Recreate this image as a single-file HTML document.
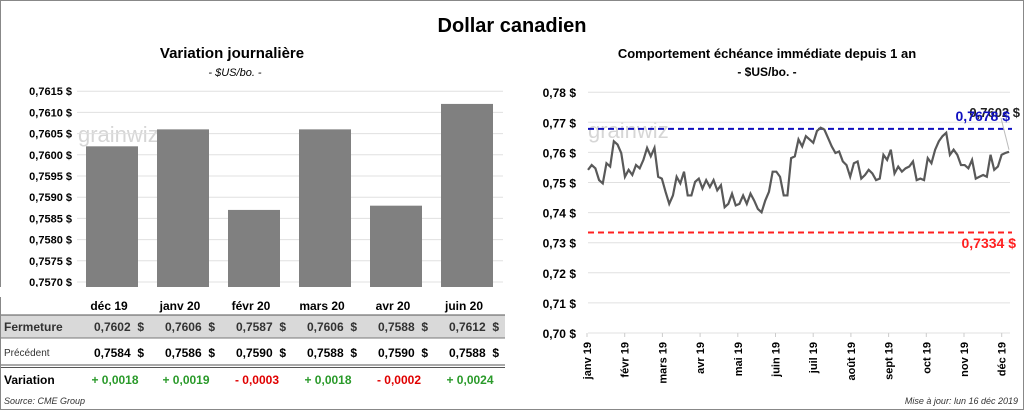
<!DOCTYPE html>
<html><head><meta charset="utf-8">
<style>
body{margin:0;width:1024px;height:410px;overflow:hidden;background:#fff;font-family:"Liberation Sans",sans-serif;}
svg text{font-family:"Liberation Sans",sans-serif;}
</style></head>
<body>
<svg id="s" width="1024" height="410" xmlns="http://www.w3.org/2000/svg">
<rect x="0.5" y="0.5" width="1023" height="409" fill="#fff" stroke="#888"/>
<text x="512" y="32" text-anchor="middle" font-size="20" font-weight="bold">Dollar canadien</text>
<text x="232" y="58" text-anchor="middle" font-size="15" font-weight="bold">Variation  journalière</text>
<text x="235" y="76" text-anchor="middle" font-size="11" font-style="italic">- $US/bo. -</text>
<text x="767" y="58" text-anchor="middle" font-size="13" font-weight="bold">Comportement échéance immédiate depuis 1 an</text>
<text x="767" y="76" text-anchor="middle" font-size="12" font-weight="bold">- $US/bo. -</text>
<text x="78" y="142" font-size="22" fill="#d6d6d6">grainwiz</text>
<text x="588" y="138" font-size="22" fill="#d6d6d6">grainwiz</text>
<g id="left"></g>
<g id="right"></g>
<text x="4" y="404" font-size="9" font-style="italic" fill="#333">Source: CME Group</text>
<text x="1018" y="404" text-anchor="end" font-size="9" font-style="italic" fill="#333">Mise à jour: lun 16 déc 2019</text>
</svg>
<script>
const barCats=["déc 19","janv 20","févr 20","mars 20","avr 20","juin 20"];
const closeVals=[0.7602,0.7606,0.7587,0.7606,0.7588,0.7612];
const prevVals=[0.7584,0.7586,0.7590,0.7588,0.7590,0.7588];
const varVals=[0.0018,0.0019,-0.0003,0.0018,-0.0002,0.0024];
const leftTicks=[0.7570,0.7575,0.7580,0.7585,0.7590,0.7595,0.7600,0.7605,0.7610,0.7615];
const lineVals=[0.7542,0.7558,0.7547,0.7508,0.7497,0.7564,0.7553,0.7637,0.7626,0.7598,0.7519,0.7542,0.7525,0.7558,0.7547,0.7575,0.7615,0.7587,0.7615,0.7519,0.7513,0.7469,0.7429,0.7457,0.7519,0.7497,0.7536,0.7457,0.7457,0.7502,0.7513,0.7480,0.7508,0.7485,0.7508,0.7474,0.7491,0.7418,0.7429,0.7463,0.7424,0.7429,0.7457,0.7429,0.7463,0.7440,0.7412,0.7401,0.7440,0.7469,0.7536,0.7536,0.7519,0.7457,0.7457,0.7581,0.7587,0.7643,0.7620,0.7654,0.7643,0.7632,0.7671,0.7682,0.7676,0.7648,0.7620,0.7598,0.7603,0.7570,0.7558,0.7519,0.7564,0.7570,0.7513,0.7525,0.7542,0.7530,0.7508,0.7513,0.7592,0.7575,0.7609,0.7530,0.7553,0.7536,0.7547,0.7553,0.7570,0.7508,0.7513,0.7508,0.7581,0.7564,0.7609,0.7637,0.7654,0.7665,0.7592,0.7609,0.7592,0.7558,0.7558,0.7547,0.7575,0.7513,0.7519,0.7525,0.7519,0.7592,0.7542,0.7553,0.7592,0.7598,0.7602];
const months=["janv 19","févr 19","mars 19","avr 19","mai 19","juin 19","juil 19","août 19","sept 19","oct 19","nov 19","déc 19"];
const rightTicks=[0.70,0.71,0.72,0.73,0.74,0.75,0.76,0.77,0.78];
const highVal=0.7678, lowVal=0.7334, lastVal=0.7602;
const NS="http://www.w3.org/2000/svg";
function mk(p,t,a,txt){const e=document.createElementNS(NS,t);for(const k in a)e.setAttribute(k,a[k]);if(txt!==undefined)e.textContent=txt;p.appendChild(e);return e;}
const fmt=(v,d)=>v.toFixed(d).replace(".",",");
// left
const L=document.getElementById("left");
const ly=v=>282-(v-0.7570)/0.0005*21.2;
const lx=i=>112+i*71;
leftTicks.forEach(t=>{const g=mk(L,"line",{x1:77,x2:503,y1:ly(t),y2:ly(t),stroke:"#e0e0e0"});

const tx=mk(L,"text",{x:72,y:ly(t)+4,"text-anchor":"end","font-size":11,"font-weight":"bold"},fmt(t,4)+" $");
});
closeVals.forEach((v,i)=>{const r=mk(L,"rect",{x:lx(i)-26,y:ly(v),width:52,height:288-ly(v),fill:"#808080"});
});
mk(L,"rect",{x:0,y:287,width:512,height:10,fill:"#fff"});
mk(L,"rect",{x:1,y:315,width:504,height:23,fill:"#d9d9d9"});
mk(L,"line",{x1:1,x2:505,y1:315,y2:315,stroke:"#555"});
mk(L,"line",{x1:1,x2:505,y1:338,y2:338,stroke:"#777"});
mk(L,"line",{x1:1,x2:505,y1:365,y2:365,stroke:"#555"});
mk(L,"line",{x1:1,x2:505,y1:367.5,y2:367.5,stroke:"#555"});
const r1=mk(L,"text",{x:4,y:331,"font-size":12,"font-weight":"bold",fill:"#333"},"Fermeture");
const r2=mk(L,"text",{x:4,y:356,"font-size":10,fill:"#333"},"Précédent");
const r3=mk(L,"text",{x:4,y:384,"font-size":12,"font-weight":"bold"},"Variation");
barCats.forEach((c,i)=>{const x=lx(i);
const h=mk(L,"text",{x:x-3,y:310,"text-anchor":"middle","font-size":12,"font-weight":"bold"},c);
const a=mk(L,"text",{x:x+32,y:331,"text-anchor":"end","font-size":12,"font-weight":"bold",fill:"#333"},fmt(closeVals[i],4)+"  $");a.style.whiteSpace="pre";
const b=mk(L,"text",{x:x+32,y:357,"text-anchor":"end","font-size":12,"font-weight":"bold"},fmt(prevVals[i],4)+"  $");b.style.whiteSpace="pre";
const d=varVals[i];
const c2=mk(L,"text",{x:x+3,y:384,"text-anchor":"middle","font-size":12,"font-weight":"bold",fill:d>=0?"#2a9a2a":"#e00000"},(d>=0?"+ ":"- ")+fmt(Math.abs(d),4));c2.style.whiteSpace="pre";});
// right
const R=document.getElementById("right");
const ry=v=>333-(v-0.70)/0.01*30.1;
const x0=588,x1=1009;
const rx=i=>x0+i*(x1-x0)/(lineVals.length-1);
rightTicks.forEach(t=>{const g=mk(R,"line",{x1:588,x2:1010,y1:ry(t),y2:ry(t),stroke:"#e0e0e0"});

const tx=mk(R,"text",{x:576,y:ry(t)+5,"text-anchor":"end","font-size":12,"font-weight":"bold"},fmt(t,2)+" $");
});
months.forEach((m,i)=>{const x=587+i*37.7;
mk(R,"line",{x1:x,x2:x,y1:333,y2:337,stroke:"#ccc"});
const t=mk(R,"text",{transform:`translate(${x+4},342) rotate(-90)`,"text-anchor":"end","font-size":11,"font-weight":"bold"},m);
});
const hl=mk(R,"line",{x1:588,x2:1012,y1:ry(highVal),y2:ry(highVal),stroke:"#1010c0","stroke-width":2,"stroke-dasharray":"6,4"});

const ll=mk(R,"line",{x1:588,x2:1012,y1:ry(lowVal),y2:ry(lowVal),stroke:"#ff2020","stroke-width":2,"stroke-dasharray":"6,4"});

const pl=mk(R,"polyline",{points:lineVals.map((v,i)=>rx(i)+","+ry(v)).join(" "),fill:"none",stroke:"#595959","stroke-width":2.2});

mk(R,"line",{x1:1001,x2:1009,y1:118,y2:ry(lastVal)-2,stroke:"#bbb"});
const lt=mk(R,"text",{x:1020,y:117,"text-anchor":"end","font-size":13,"font-weight":"bold",fill:"#222"},fmt(lastVal,4)+" $");
const ht=mk(R,"text",{x:1010,y:121,"text-anchor":"end","font-size":14,"font-weight":"bold",fill:"#1010c0"},fmt(highVal,4)+" $");
const lo=mk(R,"text",{x:1016,y:248,"text-anchor":"end","font-size":14,"font-weight":"bold",fill:"#ff2020"},fmt(lowVal,4)+" $");
</script>
</body></html>
